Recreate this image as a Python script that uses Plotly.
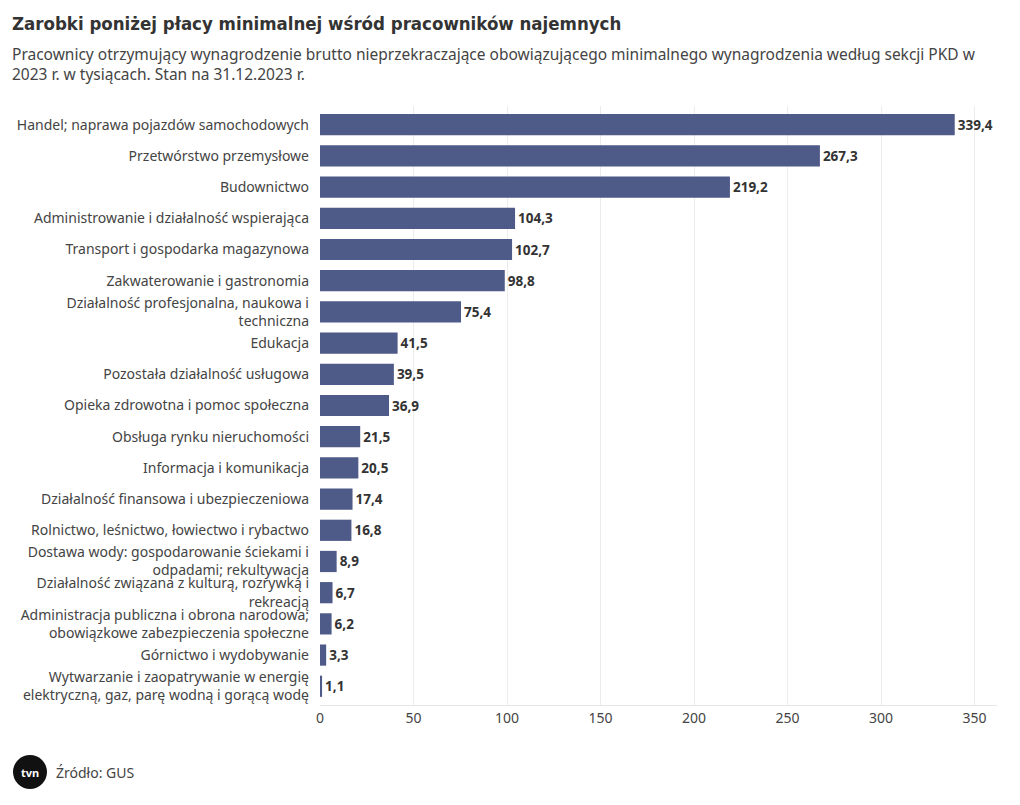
import plotly.graph_objects as go

categories = [
    "Handel; naprawa pojazdów samochodowych",
    "Przetwórstwo przemysłowe",
    "Budownictwo",
    "Administrowanie i działalność wspierająca",
    "Transport i gospodarka magazynowa",
    "Zakwaterowanie i gastronomia",
    "Działalność profesjonalna, naukowa i<br>techniczna",
    "Edukacja",
    "Pozostała działalność usługowa",
    "Opieka zdrowotna i pomoc społeczna",
    "Obsługa rynku nieruchomości",
    "Informacja i komunikacja",
    "Działalność finansowa i ubezpieczeniowa",
    "Rolnictwo, leśnictwo, łowiectwo i rybactwo",
    "Dostawa wody: gospodarowanie ściekami i<br>odpadami; rekultywacja",
    "Działalność związana z kulturą, rozrywką i<br>rekreacją",
    "Administracja publiczna i obrona narodowa;<br>obowiązkowe zabezpieczenia społeczne",
    "Górnictwo i wydobywanie",
    "Wytwarzanie i zaopatrywanie w energię<br>elektryczną, gaz, parę wodną i gorącą wodę",
]
values = [339.4, 267.3, 219.2, 104.3, 102.7, 98.8, 75.4, 41.5, 39.5, 36.9,
          21.5, 20.5, 17.4, 16.8, 8.9, 6.7, 6.2, 3.3, 1.1]
tick_vals = [0, 50, 100, 150, 200, 250, 300, 350]

labels = [f"{v:.1f}".replace(".", ",") for v in values]

BAR = "#4e5a88"
FONT = "Noto Sans"
OFF = 8  # page body margin
W, H = 1004, 789
# plot area in screen pixels: x 320..997, y 106..705
ML = 320 - OFF
MR = OFF + W - 997
MT = 106 - OFF
MB = OFF + H - 705
pw = W - ML - MR
ph = H - MT - MB


def px(sx):
    return (sx - OFF - ML) / pw


def py(sy):
    return (OFF + H - MB - sy) / ph


fig = go.Figure(go.Bar(
    x=values, y=categories, orientation="h",
    marker=dict(color=BAR, line=dict(width=0)),
    text=[f"<b>{t}</b>" for t in labels], textposition="outside",
    textfont=dict(family=FONT, size=13.5, color="#333333"),
    cliponaxis=False,
    hoverinfo="x+y",
))

fig.update_layout(
    width=W, height=H,
    paper_bgcolor="white", plot_bgcolor="white",
    margin=dict(l=ML, r=MR, t=MT, b=MB, autoexpand=False),
    bargap=0.32,
    showlegend=False,
    font=dict(family=FONT, size=13, color="#444444"),
    xaxis=dict(range=[0, 362], tickvals=tick_vals, showgrid=True,
               gridcolor="#ececec", gridwidth=1, zeroline=False,
               showline=True, linecolor="#e6e6e6", ticks="", automargin=False,
               tickfont=dict(family=FONT, size=14, color="#444444")),
    yaxis=dict(categoryorder="array", categoryarray=categories[::-1],
               range=[-0.6, 18.6], showgrid=False, zeroline=False,
               showline=False, automargin=False,
               ticks="", ticklabelstandoff=10,
               tickfont=dict(family=FONT, size=14, color="#444444")),
    annotations=[
        dict(text="<b>Zarobki poniżej płacy minimalnej wśród pracowników najemnych</b>",
             x=px(10), y=py(11), xref="paper", yref="paper", showarrow=False,
             xanchor="left", yanchor="top",
             font=dict(family="DejaVu Sans Condensed", size=18.5, color="#333333")),
        dict(text="Pracownicy otrzymujący wynagrodzenie brutto nieprzekraczające obowiązującego minimalnego wynagrodzenia według sekcji PKD w<br>2023 r. w tysiącach. Stan na 31.12.2023 r.",
             x=px(10), y=py(41), xref="paper", yref="paper", showarrow=False,
             xanchor="left", yanchor="top", align="left",
             font=dict(family=FONT, size=15.5, color="#444444")),
        dict(text="Źródło: GUS", x=px(54), y=py(772), xref="paper", yref="paper",
             showarrow=False, xanchor="left", yanchor="middle",
             font=dict(family=FONT, size=14, color="#444444")),
        dict(text="<b>tvn</b>", x=px(30), y=py(772), xref="paper", yref="paper",
             showarrow=False, xanchor="center", yanchor="middle",
             font=dict(family=FONT, size=11, color="white")),
    ],
    shapes=[
        dict(type="circle", xref="paper", yref="paper",
             x0=px(13), x1=px(47), y0=py(789), y1=py(755),
             fillcolor="#111111", line=dict(width=0)),
    ],
)

fig.write_html("out.html")
